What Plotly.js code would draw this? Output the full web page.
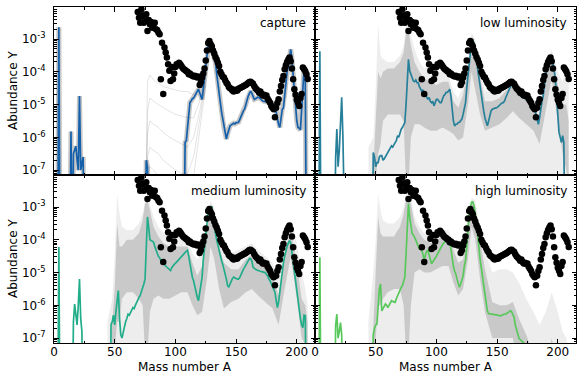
<!DOCTYPE html>
<html>
<head>
<meta charset="utf-8">
<script src="https://cdn.plot.ly/plotly-3.0.1.min.js"></script>
<style>html,body{margin:0;padding:0;background:#fff;}#chart{width:577px;height:374px;}</style>
</head>
<body>
<div id="chart"></div>
<script>
// ---- solar r-process abundances (log10 Y) ----
const solarA = [69,70,71,72,73,74,75,76,77,78,79,80,81,82,83,84,85,86,87,88,89,90,91,92,93,94,95,96,97,98,99,100,101,102,103,104,105,106,107,108,109,110,111,112,113,114,115,116,117,118,119,120,121,122,123,124,125,126,127,128,129,130,131,132,133,134,135,136,137,138,139,140,141,142,143,144,145,146,147,148,149,150,151,152,153,154,155,156,157,158,159,160,161,162,163,164,165,166,167,168,169,170,171,172,173,174,175,176,177,178,179,180,181,182,183,184,185,186,187,188,189,190,191,192,193,194,195,196,197,198,199,200,201,202,203,204,205,206,207,208,209];
const solarLogY = [-2.17,-2.35,-2.5,-2.09,-2.27,-2.5,-2.42,-2.24,-2.75,-2.42,-2.55,-2.48,-2.65,-2.55,-2.5,-2.7,-2.72,-2.8,-2.85,-4.23,-3.11,-4.68,-3.26,-3.41,-3.56,-3.77,-3.97,-4.28,-3.85,-4.23,-4.05,-3.85,-3.77,-3.8,-3.72,-3.77,-3.82,-3.88,-3.92,-3.94,-3.98,-4.0,-4.07,-4.05,-4.1,-4.12,-4.14,-4.12,-4.15,-4.17,-4.14,-4.4,-4.32,-4.17,-4.05,-3.9,-3.65,-3.35,-3.12,-3.06,-3.15,-3.22,-3.35,-3.44,-3.55,-3.62,-3.72,-3.82,-4.0,-4.07,-4.15,-4.17,-4.26,-4.33,-4.38,-4.46,-4.5,-4.52,-4.57,-4.6,-4.55,-4.58,-4.57,-4.52,-4.5,-4.48,-4.46,-4.44,-4.42,-4.4,-4.37,-4.34,-4.31,-4.3,-4.34,-4.36,-4.44,-4.5,-4.54,-4.58,-4.64,-4.6,-4.68,-4.72,-4.7,-4.74,-4.72,-4.82,-4.88,-4.94,-5.04,-5.1,-5.14,-5.39,-5.1,-4.95,-4.84,-4.6,-4.43,-4.25,-4.13,-3.92,-3.8,-3.7,-3.62,-3.56,-3.68,-3.9,-4.23,-4.53,-4.7,-4.85,-4.94,-5.04,-4.8,-4.68,-3.87,-3.92,-3.98,-4.07,-4.22];

// ---- capture (log10 Y) ----
const captureA = [3,4,5,13,14,15,16,17,18,19,20,21,22,23,24,25,75,76,77,78,107,108,109,110,111,112,113,114,115,116,117,118,119,120,121,122,123,124,125,126,127,128,129,130,131,132,133,134,135,136,137,138,139,140,141,142,143,144,145,146,147,148,149,150,151,152,153,154,155,156,157,158,159,160,161,162,163,164,165,166,167,168,169,170,171,172,173,174,175,176,177,178,179,180,181,182,183,184,185,186,187,188,189,190,191,192,193,194,195,196,197,198,199,200,201,202,203,204,205,206,207,208];
const captureLogY = [-10,-2.64,-10,-10,-5.82,-10,-6.5,-6.4,-6.27,-6.7,-7.0,-4.74,-7.0,-6.8,-6.6,-10,-10,-6.7,-6.9,-10,-10,-6.15,-6.1,-5.7,-5.22,-4.93,-4.89,-4.82,-4.8,-4.74,-4.68,-4.59,-4.53,-4.64,-4.74,-4.84,-4.52,-4.22,-3.98,-3.52,-3.19,-3.06,-3.16,-3.32,-3.48,-3.62,-3.71,-4.05,-4.4,-4.7,-4.93,-5.22,-5.46,-5.7,-5.89,-6.05,-5.89,-5.74,-5.65,-5.62,-5.59,-5.57,-5.59,-5.55,-5.55,-5.54,-5.46,-5.35,-5.26,-5.19,-5.14,-5.0,-4.85,-4.74,-4.66,-4.59,-4.66,-4.74,-4.84,-4.82,-4.8,-4.77,-4.78,-4.82,-4.85,-4.89,-4.9,-4.9,-4.92,-4.92,-4.94,-4.93,-4.96,-4.98,-5.0,-5.0,-5.22,-5.46,-5.6,-5.7,-5.4,-5.15,-5.1,-4.7,-4.3,-4.0,-3.83,-3.52,-3.31,-3.6,-4.15,-4.63,-5.1,-5.5,-5.7,-5.72,-5.77,-5.1,-4.3,-3.92,-4.3,-10];
const capLightA = [75,77,79,82,86,90,95,100,105,110,115,120,125];
const capLight1 = [-10,-4.3,-4.1,-4.25,-4.35,-4.45,-4.5,-4.55,-4.6,-4.6,-4.7,-4.5,-4.0];
const capLight2 = [-10,-5.2,-4.8,-4.9,-5.0,-5.1,-5.2,-5.3,-5.35,-5.4,-5.4,-4.9,-4.1];
const capLight3 = [-10,-5.9,-5.5,-5.6,-5.7,-5.85,-6.0,-6.1,-6.2,-6.3,-6.0,-5.2,-4.2];
const capLight4 = [-10,-6.6,-6.3,-6.4,-6.5,-6.7,-6.85,-7.0,-7.1,-7.1,-6.6,-5.5,-4.3];
const capLight5 = [-10,-7.2,-6.9,-7.0,-7.2,-7.4,-7.6,-7.8,-8.0,-8.0,-7.2,-5.8,-4.4];

// ---- low luminosity ----
const lowA = [3,4,5,16,17,18,19,20,21,22,23,24,25,47,48,49,50,51,52,53,54,55,56,57,58,59,60,61,62,63,64,65,66,67,68,69,70,71,72,73,74,75,76,77,78,79,80,81,82,83,84,85,86,87,88,89,90,91,92,93,94,95,96,97,98,99,100,101,102,103,104,105,106,107,108,109,110,111,112,113,114,115,116,117,118,119,120,121,122,123,124,125,126,127,128,129,130,131,132,133,134,135,136,137,138,139,140,141,142,143,144,145,146,147,148,149,150,151,152,153,154,155,156,157,158,159,160,161,162,163,164,165,166,167,168,169,170,171,172,173,174,175,176,177,178,179,180,181,182,183,184,185,186,187,188,189,190,191,192,193,194,195,196,197,198,199,200,201,202,203,204,205,206];
const lowLogY = [-10,-3.37,-10,-10,-6.6,-5.75,-6.9,-6.4,-5.6,-4.78,-6.0,-6.8,-10,-10,-6.46,-6.6,-6.9,-6.77,-6.77,-6.6,-6.56,-6.56,-6.7,-6.66,-6.6,-6.5,-6.46,-6.4,-6.35,-6.26,-6.3,-6.2,-6.16,-6.1,-5.95,-6.0,-5.85,-5.75,-5.7,-5.6,-5.55,-5.0,-4.43,-3.62,-3.97,-4.1,-4.2,-4.28,-4.3,-4.25,-4.33,-4.33,-4.45,-4.53,-4.6,-4.55,-4.73,-4.7,-4.8,-4.84,-4.78,-4.9,-4.94,-4.9,-5.04,-4.95,-4.84,-4.84,-4.9,-4.94,-4.94,-4.8,-4.73,-4.7,-4.63,-4.63,-4.58,-4.53,-4.75,-5.24,-5.5,-5.65,-5.6,-5.6,-5.55,-5.54,-5.5,-5.44,-5.3,-5.1,-4.94,-4.5,-4.1,-3.82,-3.3,-3.06,-3.01,-3.2,-3.31,-3.6,-3.92,-4.2,-4.4,-4.63,-4.9,-5.2,-5.4,-5.5,-5.65,-5.5,-5.3,-5.2,-5.14,-5.12,-5.1,-5.1,-5.09,-5.05,-5.0,-4.97,-4.95,-4.94,-4.9,-4.8,-4.7,-4.63,-4.55,-4.45,-4.4,-4.38,-4.45,-4.53,-4.55,-4.62,-4.68,-4.73,-4.75,-4.78,-4.8,-4.82,-4.84,-4.86,-4.9,-4.94,-4.98,-5.0,-5.04,-5.1,-5.3,-5.45,-5.6,-5.4,-5.1,-4.9,-4.73,-4.4,-4.1,-3.95,-3.82,-3.65,-3.55,-3.51,-3.7,-3.95,-4.23,-4.9,-5.5,-5.85,-6.0,-6.16,-5.95,-6.16,-10];

// ---- medium luminosity ----
const medA = [3,4,5,15,16,17,18,19,20,21,22,23,24,46,47,48,49,50,51,52,53,54,55,56,57,58,59,60,61,62,63,64,65,66,67,68,69,70,71,72,73,74,75,76,77,78,79,80,81,82,83,84,85,86,87,88,89,90,91,92,93,94,95,96,97,98,99,100,101,102,103,104,105,106,107,108,109,110,111,112,113,114,115,116,117,118,119,120,121,122,123,124,125,126,127,128,129,130,131,132,133,134,135,136,137,138,139,140,141,142,143,144,145,146,147,148,149,150,151,152,153,154,155,156,157,158,159,160,161,162,163,164,165,166,167,168,169,170,171,172,173,174,175,176,177,178,179,180,181,182,183,184,185,186,187,188,189,190,191,192,193,194,195,196,197,198,199,200,201,202,203,204,205,206,207,208];
const medLogY = [-10,-4.22,-10,-10,-6.5,-5.96,-6.3,-6.6,-6.0,-5.2,-6.4,-6.8,-10,-10,-6.58,-6.5,-6.3,-6.6,-6.2,-5.8,-5.55,-6.4,-6.89,-7.0,-6.8,-6.68,-6.5,-6.4,-6.27,-6.3,-6.2,-6.15,-6.07,-6.1,-6.0,-5.9,-5.85,-5.76,-5.7,-5.6,-5.45,-5.35,-5.2,-4.2,-3.3,-3.6,-4.0,-4.02,-4.05,-4.07,-4.2,-4.3,-4.43,-4.5,-4.55,-4.63,-4.7,-4.73,-4.75,-4.8,-4.84,-4.88,-4.9,-4.94,-4.85,-4.78,-4.75,-4.72,-4.68,-4.65,-4.62,-4.58,-4.52,-4.48,-4.43,-4.38,-4.34,-4.32,-4.5,-4.73,-4.95,-5.15,-5.25,-5.45,-5.6,-5.75,-5.86,-5.6,-5.35,-5.14,-4.6,-4.1,-3.91,-3.5,-3.09,-3.05,-3.0,-2.99,-3.3,-3.65,-3.81,-4.0,-4.17,-4.35,-4.53,-4.63,-4.75,-4.9,-4.99,-5.2,-5.4,-5.45,-5.35,-5.25,-5.18,-5.14,-5.15,-5.18,-5.2,-5.2,-5.15,-5.05,-4.98,-4.9,-4.84,-4.78,-4.7,-4.62,-4.57,-4.58,-4.65,-4.84,-4.88,-4.9,-4.92,-4.94,-4.95,-4.96,-4.97,-4.98,-4.99,-5.0,-5.05,-5.1,-5.2,-5.25,-5.35,-5.45,-5.55,-5.6,-5.85,-6.07,-5.9,-5.55,-5.25,-5.0,-4.7,-4.5,-4.32,-4.2,-4.1,-4.02,-4.1,-4.4,-4.7,-5.0,-5.25,-5.6,-5.9,-6.17,-6.4,-6.6,-6.68,-6.3,-6.32,-10];

// ---- high luminosity ----
const highA = [3,4,5,16,17,18,19,20,21,22,23,47,48,49,50,51,52,53,54,55,56,57,58,59,60,61,62,63,64,65,66,67,68,69,70,71,72,73,74,75,76,77,78,79,80,81,82,83,84,85,86,87,88,89,90,91,92,93,94,95,96,97,98,99,100,101,102,103,104,105,106,107,108,109,110,111,112,113,114,115,116,117,118,119,120,121,122,123,124,125,126,127,128,129,130,131,132,133,134,135,136,137,138,139,140,141,142,143,144,145,146,147,148,149,150,151,152,153,154,155,156,157,158,159,160,161,162,163,164,165,166,167,168,169,170,171,172,173,174,175];
const highLogY = [-10,-4.53,-10,-10,-6.6,-6.27,-7.0,-6.8,-6.53,-6.9,-10,-10,-6.9,-6.7,-6.6,-6.58,-6.0,-5.5,-5.35,-6.17,-6.1,-6.0,-5.96,-6.0,-6.07,-6.0,-5.9,-5.86,-5.88,-5.9,-5.91,-5.8,-5.7,-5.66,-5.55,-5.45,-5.4,-5.25,-5.14,-4.43,-3.5,-2.89,-3.3,-3.6,-3.81,-3.85,-3.91,-4.0,-4.1,-4.22,-4.27,-4.3,-4.32,-4.45,-4.63,-4.45,-4.35,-4.32,-4.5,-4.6,-4.73,-4.68,-4.63,-4.58,-4.5,-4.43,-4.35,-4.28,-4.22,-4.15,-4.1,-4.07,-4.03,-4.0,-3.98,-3.96,-4.3,-4.63,-4.8,-4.95,-5.04,-5.2,-5.35,-5.45,-5.35,-5.25,-5.1,-4.8,-4.63,-4.2,-3.6,-3.19,-3.0,-2.85,-2.84,-2.95,-3.2,-3.5,-3.81,-4.2,-4.6,-4.84,-5.1,-5.4,-5.66,-5.9,-6.17,-6.25,-6.27,-6.27,-6.27,-6.28,-6.28,-6.3,-6.3,-6.3,-6.31,-6.32,-6.3,-6.28,-6.27,-6.27,-6.25,-6.22,-6.2,-6.17,-6.2,-6.3,-6.37,-6.6,-6.75,-6.89,-7.0,-7.05,-7.09,-7.12,-7.15,-7.17,-7.19,-10];

// ---- spread of the trajectory ensemble (log10 Y) ----
const envA = [44,48,50,52,54,56,60,65,70,73,75,77,79,82,86,90,95,100,105,110,114,118,122,126,129,132,136,140,146,152,158,163,168,174,180,185,190,195,200,204,207,209];
const lowUpper  = [-6.3,-6.0,-4.5,-2.5,-3.5,-3.6,-3.7,-3.7,-3.5,-3.2,-2.6,-2.5,-2.9,-3.3,-3.7,-3.9,-3.8,-4.0,-4.0,-4.1,-4.6,-4.8,-4.4,-3.6,-2.8,-3.0,-4.0,-4.6,-4.6,-4.5,-4.4,-4.2,-4.4,-4.6,-4.8,-5.2,-4.0,-3.3,-4.0,-4.3,-3.8,-4.0];
const lowDarkUp = [-10,-7.0,-5.5,-4.0,-4.2,-4.0,-3.9,-3.9,-3.7,-3.4,-2.8,-2.7,-3.2,-3.7,-4.0,-4.2,-4.3,-4.4,-4.3,-4.3,-4.9,-5.1,-4.7,-3.8,-2.95,-3.2,-4.2,-4.9,-4.9,-4.8,-4.55,-4.3,-4.55,-4.75,-4.95,-5.45,-4.2,-3.4,-4.4,-5.0,-5.0,-5.5];
const lowDarkLo = [-10,-9,-7.5,-6.5,-6.2,-5.5,-5.3,-5.3,-5.3,-5.5,-7.5,-7.5,-6.0,-5.6,-5.6,-5.7,-5.8,-5.8,-5.7,-5.8,-5.9,-6.1,-6.0,-5.0,-4.0,-4.5,-5.3,-5.8,-5.7,-5.6,-5.4,-5.2,-5.4,-5.6,-5.8,-6.2,-5.2,-4.2,-5.5,-6.5,-7.0,-7.5];
const medUpper  = [-6.5,-5.8,-4.5,-2.6,-3.2,-3.6,-3.7,-3.7,-3.5,-3.2,-2.8,-2.7,-2.9,-3.3,-3.6,-3.8,-3.85,-3.9,-3.9,-4.0,-4.4,-4.6,-4.3,-3.5,-2.8,-3.0,-3.8,-4.3,-4.4,-4.3,-4.2,-4.1,-4.3,-4.5,-4.7,-5.2,-4.0,-3.4,-4.1,-5.0,-5.5,-6.0];
const medDarkUp = [-10,-6.5,-5.5,-3.5,-4.2,-4.2,-4.0,-4.0,-3.8,-3.4,-2.9,-2.8,-3.1,-3.6,-3.9,-4.1,-4.2,-4.2,-4.2,-4.2,-4.7,-5.1,-4.8,-3.7,-2.9,-3.2,-4.2,-4.7,-4.9,-4.9,-4.6,-4.45,-4.7,-4.85,-5.1,-5.7,-4.4,-3.7,-4.7,-5.8,-6.0,-6.5];
const medDarkLo = [-10,-9,-7.5,-6.5,-6.5,-5.8,-5.6,-5.6,-5.8,-6.0,-7.5,-7.5,-6.2,-5.8,-5.7,-5.8,-5.8,-5.7,-5.6,-5.6,-6.0,-6.3,-6.2,-5.2,-4.2,-4.6,-5.5,-6.1,-5.9,-5.8,-5.6,-5.5,-5.7,-5.9,-6.1,-6.6,-5.5,-4.5,-5.8,-7.0,-7.2,-7.5];
const highUpper  = [-6.5,-5.0,-4.0,-2.6,-3.1,-3.4,-3.5,-3.5,-3.3,-3.0,-2.6,-2.5,-2.7,-3.3,-3.6,-3.8,-3.8,-3.7,-3.7,-3.7,-4.1,-4.3,-4.1,-3.3,-2.7,-2.8,-3.7,-4.3,-5.0,-4.9,-4.9,-5.0,-5.3,-5.8,-6.2,-6.6,-6.2,-5.6,-6.2,-6.8,-7.0,-7.3];
const highDarkUp = [-10,-6.5,-5.0,-3.3,-3.8,-3.9,-3.9,-3.9,-3.6,-3.2,-2.8,-2.7,-2.9,-3.5,-3.8,-4.0,-4.1,-4.0,-3.9,-3.9,-4.3,-4.7,-4.6,-3.5,-2.8,-3.0,-4.0,-4.9,-5.9,-6.0,-6.0,-5.9,-6.4,-6.9,-7.5,-8,-8,-7,-8,-9,-9,-9];
const highDarkLo = [-10,-9,-7.5,-6.0,-6.0,-5.8,-5.6,-5.5,-5.5,-6.0,-7.5,-7.5,-6.0,-5.0,-4.9,-5.0,-5.0,-4.9,-4.8,-4.8,-5.3,-5.7,-5.5,-4.6,-3.6,-4.0,-5.2,-6.2,-7.0,-7.0,-7.0,-7.0,-8,-8,-9,-9,-9,-9,-9,-9,-9,-9];

const panelLabels = ['capture','low luminosity','medium luminosity','high luminosity'];
const lineColors = ['#1560ab','#27809a','#22ad8a','#58c85c'];
const tickLabelsX = [0,50,100,150,200];
const decadeExp = [-7,-6,-5,-4,-3];

const toY = a => a.map(v => Math.pow(10, v));
const FLOOR = 1e-10;

const traces = [];
function fillBand(xa, ya, up, lo, color) {
  traces.push({x: envA.concat(envA.slice().reverse()),
    y: toY(up).concat(lo ? toY(lo).reverse() : envA.map(() => FLOOR)),
    xaxis: xa, yaxis: ya, mode: 'lines', fill: 'toself', fillcolor: color,
    line: {width: 0}, hoverinfo: 'skip', showlegend: false});
}
function light(xa, ya, arr) {
  traces.push({x: capLightA, y: toY(arr), xaxis: xa, yaxis: ya, mode: 'lines',
    line: {color: 'rgba(0,0,0,0.11)', width: 1}, showlegend: false});
}
function colored(xa, ya, A, L, color, shadow) {
  if (shadow) traces.push({x: A, y: toY(L), xaxis: xa, yaxis: ya, mode: 'lines',
    line: {color: 'rgba(70,70,70,0.3)', width: 5}, showlegend: false});
  traces.push({x: A, y: toY(L), xaxis: xa, yaxis: ya, mode: 'lines',
    line: {color: color, width: 1.7}, showlegend: false});
}
function dots(xa, ya) {
  traces.push({x: solarA, y: toY(solarLogY), xaxis: xa, yaxis: ya, mode: 'markers',
    marker: {color: '#000', size: 6.5}, showlegend: false});
}

// capture
[capLight1, capLight2, capLight3, capLight4, capLight5].forEach(a => light('x', 'y', a));
colored('x', 'y', captureA, captureLogY, lineColors[0], true);
dots('x', 'y');
// low
fillBand('x2', 'y2', lowUpper, null, 'rgba(0,0,0,0.07)');
fillBand('x2', 'y2', lowDarkUp, lowDarkLo, 'rgba(0,0,0,0.15)');
colored('x2', 'y2', lowA, lowLogY, lineColors[1], false);
dots('x2', 'y2');
// medium
fillBand('x3', 'y3', medUpper, null, 'rgba(0,0,0,0.07)');
fillBand('x3', 'y3', medDarkUp, medDarkLo, 'rgba(0,0,0,0.15)');
colored('x3', 'y3', medA, medLogY, lineColors[2], false);
dots('x3', 'y3');
// high
fillBand('x4', 'y4', highUpper, null, 'rgba(0,0,0,0.07)');
fillBand('x4', 'y4', highDarkUp, highDarkLo, 'rgba(0,0,0,0.15)');
colored('x4', 'y4', highA, highLogY, lineColors[3], false);
dots('x4', 'y4');

// minor tick positions on the log axes (2..9 in each decade)
const minorY = [];
for (let e = -8; e <= -2; e++) for (let m = 2; m <= 9; m++) minorY.push(m * Math.pow(10, e));

const font = {family: 'DejaVu Sans, sans-serif', size: 12, color: '#000'};
function xAxis(dom, anchor, labels) {
  return {domain: dom, anchor: anchor, range: [0, 215], tickvals: tickLabelsX,
    showticklabels: labels, ticks: 'inside', ticklen: 4.5, tickwidth: 1, tickcolor: '#000',
    minor: {dtick: 25, tick0: 0, ticks: 'inside', ticklen: 2.5, tickcolor: '#000'},
    showline: true, linecolor: '#000', linewidth: 1, mirror: 'allticks',
    showgrid: false, zeroline: false, tickfont: font, fixedrange: true, ticklabelstandoff: -2};
}
function yAxis(dom, anchor, labels) {
  return {domain: dom, anchor: anchor, type: 'log', range: [-7.15, -2.02],
    tickmode: 'array', tickvals: decadeExp.map(e => Math.pow(10, e)),
    ticktext: decadeExp.map(e => '10<sup>' + e + '</sup>'),
    showticklabels: labels, ticks: 'inside', ticklen: 4.5, tickwidth: 1, tickcolor: '#000',
    minor: {tickmode: 'array', tickvals: minorY, ticks: 'inside', ticklen: 2.5, tickcolor: '#000'},
    showline: true, linecolor: '#000', linewidth: 1, mirror: 'allticks',
    showgrid: false, zeroline: false, tickfont: font, fixedrange: true, ticklabelstandoff: 5};
}
const ann = [];
const refs = [['x','y'],['x2','y2'],['x3','y3'],['x4','y4']];
panelLabels.forEach((t, i) => ann.push({text: t, xref: refs[i][0] + ' domain', yref: refs[i][1] + ' domain',
  x: 1, y: 1, xanchor: 'right', yanchor: 'middle', xshift: -7, yshift: -16, showarrow: false, font: font}));
[0.75, 0.25].forEach(yy => ann.push({text: 'Abundance Y', xref: 'paper', yref: 'paper', x: 0, y: yy,
  xshift: -41, xanchor: 'center', yanchor: 'middle', textangle: -90, showarrow: false, font: font}));
['x3','x4'].forEach(r => ann.push({text: 'Mass number A', xref: r + ' domain', yref: 'paper', x: 0.5, y: 0,
  yanchor: 'top', yshift: -15, showarrow: false, font: font}));

const layout = {
  width: 577, height: 374, margin: {l: 54, r: 1, t: 7, b: 31},
  paper_bgcolor: '#fff', plot_bgcolor: '#fff', showlegend: false, font: font,
  xaxis: xAxis([0, 0.5], 'y', false), yaxis: yAxis([0.5, 1], 'x', true),
  xaxis2: xAxis([0.5, 1], 'y2', false), yaxis2: yAxis([0.5, 1], 'x2', false),
  xaxis3: xAxis([0, 0.5], 'y3', true), yaxis3: yAxis([0, 0.5], 'x3', true),
  xaxis4: xAxis([0.5, 1], 'y4', true), yaxis4: yAxis([0, 0.5], 'x4', false),
  annotations: ann
};
Plotly.newPlot('chart', traces, layout, {staticPlot: true, displayModeBar: false});
</script>
</body>
</html>
